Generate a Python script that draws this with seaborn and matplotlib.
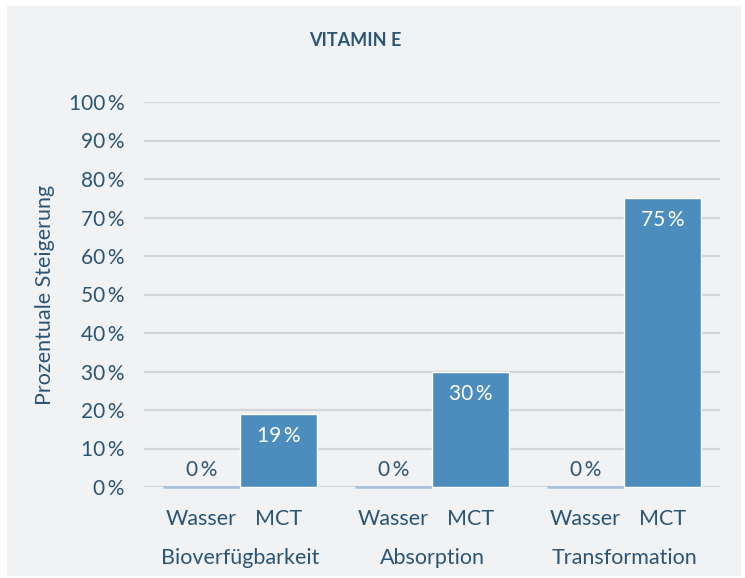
"""Vitamin E bar chart"""

import matplotlib
matplotlib.use('Agg')
import matplotlib.pyplot as plt
import pandas as pd
import seaborn as sns

# Chart data
groups = ['Bioverfügbarkeit', 'Absorption', 'Transformation']
series = ['Wasser', 'MCT']
wasser_values = [0, 0, 0]
mct_values = [19, 30, 75]
y_ticks = [0, 10, 20, 30, 40, 50, 60, 70, 80, 90, 100]

TEXT = '#2b5575'
BG = '#f1f2f4'

df = pd.DataFrame({
    'group': groups * 2,
    'series': [series[0]] * 3 + [series[1]] * 3,
    'value': wasser_values + mct_values,
})

sns.set_theme(style='white')
plt.rcParams['font.family'] = ['Lato', 'DejaVu Sans']

fig = plt.figure(figsize=(7.45, 5.78), dpi=100)
fig.patch.set_facecolor('white')
fig.patches.append(plt.Rectangle((7 / 745, 3 / 578), 733 / 745, 569 / 578,
                                 transform=fig.transFigure, color=BG, zorder=-10))

ax = fig.add_axes([144 / 745, 1 - 487 / 578, 576 / 745, 385 / 578])
ax.set_facecolor(BG)

sns.barplot(data=df, x='group', y='value', hue='series', order=groups,
            hue_order=series, palette=['#a6c1dd', '#4d8dbd'], width=0.8,
            saturation=1, legend=False, ax=ax)

# Zero bars drawn as a thin light line, labels per bar
for cont, name in zip(ax.containers, series):
    for bar in cont:
        bar.set_clip_on(False)
        h = bar.get_height()
        cx = bar.get_x() + bar.get_width() / 2
        if name == 'Wasser':
            bar.set_edgecolor('#a6c1dd')
            bar.set_linewidth(1.8)
            ax.annotate(f'{h:.0f}\u2009%', (cx, h), xytext=(0, 5),
                        textcoords='offset points', ha='center', va='bottom',
                        color=TEXT, fontsize=15)
        else:
            ax.annotate(f'{h:.0f}\u2009%', (cx, h), xytext=(0, -16),
                        textcoords='offset points', ha='center', va='center',
                        color='white', fontsize=15)

ax.set_ylim(0, 100)
ax.set_xlim(-0.5, 2.5)
ax.set_yticks(y_ticks)
ax.set_yticklabels([f'{t}\u2009%' for t in y_ticks])
ax.yaxis.grid(True, color='#d4d5d8', linewidth=1.6)
ax.set_axisbelow(True)
for s in ax.spines.values():
    s.set_visible(False)

# Two-level x labels: series under bars, group names below
ax.set_xticks(range(len(groups)))
ax.set_xticklabels(groups)
ax.set_xticks([i + d for i in range(len(groups)) for d in (-0.2, 0.2)], minor=True)
ax.set_xticklabels(series * len(groups), minor=True)
ax.tick_params(axis='x', which='major', length=0, pad=44, labelsize=15.5, labelcolor=TEXT)
ax.tick_params(axis='x', which='minor', length=0, pad=16, labelsize=15.5, labelcolor=TEXT)
ax.tick_params(axis='y', length=0, pad=14, labelsize=15, labelcolor=TEXT)
ax.set_xlabel('')
ax.set_ylabel('Prozentuale Steigerung', fontsize=15.5, color=TEXT, labelpad=10)

fig.text(355 / 745, 1 - 41 / 578, 'VITAMIN E', ha='center', va='center',
         fontsize=13, fontweight='bold', color=TEXT)

fig.savefig('out.png', dpi=100, facecolor='white')
